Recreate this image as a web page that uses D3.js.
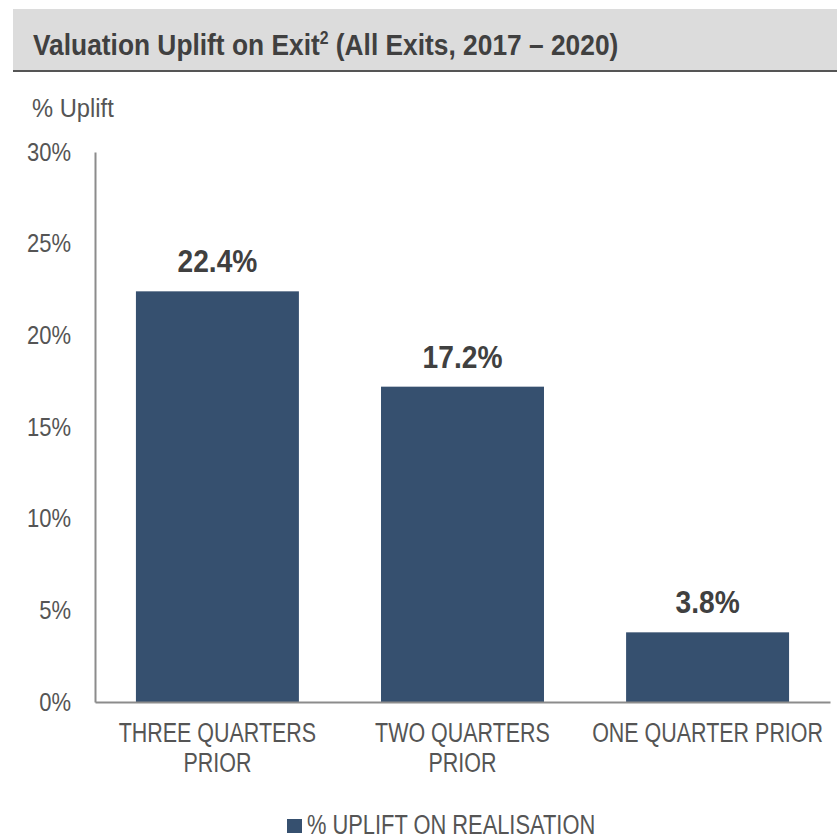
<!DOCTYPE html>
<html>
<head>
<meta charset="utf-8">
<script src="https://cdn.jsdelivr.net/npm/d3@7"></script>
<style>
	body{margin:0;background:#fff;}
	svg{display:block;}
	text{font-family:'Liberation Sans',Arial,sans-serif;fill:#555;}
</style>
</head>
<body>
<svg id="chart"></svg>
<script>
const categories = [['THREE QUARTERS','PRIOR'],['TWO QUARTERS','PRIOR'],['ONE QUARTER PRIOR']]
const uplift = [22.4,17.2,3.8]
const tick_values = [0,5,10,15,20,25,30]
const series_name = '% UPLIFT ON REALISATION'

const W = 837, H = 836
const margin = {top:152,right:7,bottom:134,left:95}
const width = W - margin.left - margin.right
const height = H - margin.top - margin.bottom
const bar_color = '#36506f'

const svg = d3.select('#chart').attr('width',W).attr('height',H)

/*narrow font look: squeeze text horizontally around its anchor*/
const narrow = (sel,x,y,f)=>sel.attr('x',0).attr('y',0).attr('transform',`translate(${x},${y}) scale(${f},1)`)

/*title band*/
svg.append('rect').attr('x',13).attr('y',9).attr('width',W-13).attr('height',62).attr('fill','#dcdcdc')
svg.append('line').attr('x1',13).attr('x2',W).attr('y1',71).attr('y2',71).attr('stroke','#555').attr('stroke-width',2)
const title = svg.append('text').attr('font-size',30).attr('font-weight','bold').style('fill','#404040')
title.append('tspan').text('Valuation Uplift on Exit')
title.append('tspan').text('2').attr('font-size',18).attr('dy',-11)
title.append('tspan').text(' (All Exits, 2017 \u2013 2020)').attr('dy',11)
narrow(title,33,55,0.878)

narrow(svg.append('text').attr('font-size',25).text('% Uplift'),32,117,0.95)

const chart = svg.append('g').attr('transform',`translate(${margin.left},${margin.top})`)

const xScale = d3.scaleBand()
	.domain(d3.range(categories.length))
	.range([0,width])
	.paddingInner(0.335)
	.paddingOuter(0.167)

const yScale = d3.scaleLinear()
	.domain([0,30])
	.range([height,0])

const axisY = chart.append('g')
	.call(d3.axisLeft(yScale).tickValues(tick_values).tickFormat(d=>d+'%').tickSize(0).tickPadding(24))
axisY.select('.domain').attr('stroke','#8c8c8c').attr('stroke-width',2)
axisY.selectAll('text')
	.attr('font-size',25)
	.attr('fill',null)
	.attr('x',0)
	.attr('transform','translate(-24,0) scale(0.88,1)')

chart.selectAll('.bar')
	.data(uplift)
	.enter()
	.append('rect')
	.classed('bar',true)
	.attr('x',(d,i)=>xScale(i))
	.attr('y',d=>yScale(d))
	.attr('width',xScale.bandwidth())
	.attr('height',d=>height-yScale(d))
	.attr('fill',bar_color)

chart.selectAll('.label')
	.data(uplift)
	.enter()
	.append('text')
	.classed('label',true)
	.attr('text-anchor','middle')
	.attr('font-size',32)
	.attr('font-weight','bold')
	.style('fill','#404040')
	.text(d=>d.toFixed(1)+'%')
	.each(function(d,i){
		narrow(d3.select(this),xScale(i)+xScale.bandwidth()/2,yScale(d)-19,0.88)
	})

const axisX = chart.append('g')
	.attr('transform',`translate(0,${height})`)
	.call(d3.axisBottom(xScale).tickSize(0).tickFormat(''))
axisX.select('.domain').attr('stroke','#8c8c8c').attr('stroke-width',2)

categories.forEach((lines,i)=>{
	lines.forEach((line,j)=>{
		const t = chart.append('text')
			.classed('cat',true)
			.attr('text-anchor','middle')
			.attr('font-size',27)
			.text(line)
		narrow(t,xScale(i)+xScale.bandwidth()/2,height+40+j*30,0.795)
	})
})

/*legend*/
const legend = svg.append('g').attr('transform','translate(287,819)')
legend.append('rect').attr('width',15).attr('height',14).attr('fill',bar_color)
narrow(legend.append('text').attr('font-size',27).text(series_name),20,15,0.81)
</script>
</body>
</html>
